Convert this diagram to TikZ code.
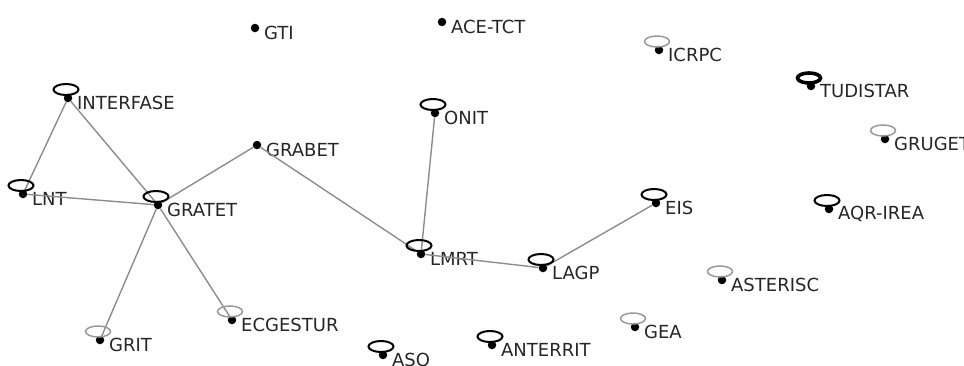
\documentclass[tikz,border=0pt]{standalone}
\usepackage{fontspec}
\setmainfont{DejaVu Sans}

\begin{document}
\begin{tikzpicture}[x=1pt,y=-1pt]
                \tikzset{vertex/.style = {shape=circle,fill=black,inner sep=0pt,minimum size=8.5pt,
                        label={[lbl]right:#1}}}
                \tikzset{lbl/.style = {font=\fontsize{18}{18}\selectfont,text=black!85,inner sep=0pt,
                        label distance=4.5pt,yshift=-4.5pt}}
                \tikzset{edge/.style = {draw=black!45,line width=1.4pt}}
                \tikzset{selfloop/.style = {draw=black,line width=2pt}}
                \tikzset{greyloop/.style = {draw=black!40,line width=1.5pt}}
                \tikzset{heavyloop/.style = {draw=black,line width=3.6pt}}
                \useasboundingbox (0,0) rectangle (964,365);

                \node[vertex=GTI] (gti) at (255, 28) {};
                \node[vertex=ACE-TCT] (acetct) at (442, 22) {};
                \node[vertex=ICRPC] (icrpc) at (659, 50) {};
                \node[vertex=TUDISTAR] (tudistar) at (811, 86) {};
                \node[vertex=INTERFASE] (interfase) at (68, 98) {};
                \node[vertex=ONIT] (onit) at (435, 113) {};
                \node[vertex=GRUGET] (gruget) at (885, 139) {};
                \node[vertex=GRABET] (grabet) at (257, 145) {};
                \node[vertex=LNT] (lnt) at (23, 194) {};
                \node[vertex=GRATET] (gratet) at (158, 205) {};
                \node[vertex=EIS] (eis) at (656, 203) {};
                \node[vertex=AQR-IREA] (aqr) at (829, 209) {};
                \node[vertex=LMRT] (lmrt) at (421, 254) {};
                \node[vertex=LAGP] (lagp) at (543, 268) {};
                \node[vertex=ASTERISC] (asterisc) at (722, 280) {};
                \node[vertex=ECGESTUR] (ecgestur) at (232, 320) {};
                \node[vertex=GEA] (gea) at (635, 327) {};
                \node[vertex=GRIT] (grit) at (100, 340) {};
                \node[vertex=ANTERRIT] (anterrit) at (492, 345) {};
                \node[vertex=ASO] (aso) at (383, 355) {};

                \draw[edge] (interfase) to (lnt);
                \draw[edge] (interfase) to (gratet);

                \draw[edge] (lnt) to (gratet);

                \draw[edge] (gratet) to (grabet);
                \draw[edge] (gratet) to (grit);
                \draw[edge] (gratet) to (ecgestur);

                \draw[edge] (grabet) to (lmrt);
                \draw[edge] (onit) to (lmrt);
                \draw[edge] (lmrt) to (lagp);
                \draw[edge] (lagp) to (eis);

                \draw[heavyloop] ([shift={(-2,-8)}]tudistar.center) ellipse [x radius=11.5pt, y radius=5pt];

                \draw[selfloop] ([shift={(-2,-8.5)}]interfase.center) ellipse [x radius=12.5pt, y radius=5.5pt];
                \draw[selfloop] ([shift={(-2,-8.5)}]onit.center) ellipse [x radius=12.5pt, y radius=5.5pt];
                \draw[selfloop] ([shift={(-2,-8.5)}]lnt.center) ellipse [x radius=12.5pt, y radius=5.5pt];
                \draw[selfloop] ([shift={(-2,-8.5)}]gratet.center) ellipse [x radius=12.5pt, y radius=5.5pt];
                \draw[selfloop] ([shift={(-2,-8.5)}]eis.center) ellipse [x radius=12.5pt, y radius=5.5pt];
                \draw[selfloop] ([shift={(-2,-8.5)}]aqr.center) ellipse [x radius=12.5pt, y radius=5.5pt];
                \draw[selfloop] ([shift={(-2,-8.5)}]lmrt.center) ellipse [x radius=12.5pt, y radius=5.5pt];
                \draw[selfloop] ([shift={(-2,-8.5)}]lagp.center) ellipse [x radius=12.5pt, y radius=5.5pt];
                \draw[selfloop] ([shift={(-2,-8.5)}]anterrit.center) ellipse [x radius=12.5pt, y radius=5.5pt];
                \draw[selfloop] ([shift={(-2,-8.5)}]aso.center) ellipse [x radius=12.5pt, y radius=5.5pt];

                \draw[greyloop] ([shift={(-2,-8.5)}]icrpc.center) ellipse [x radius=12.5pt, y radius=5.5pt];
                \draw[greyloop] ([shift={(-2,-8.5)}]gruget.center) ellipse [x radius=12.5pt, y radius=5.5pt];
                \draw[greyloop] ([shift={(-2,-8.5)}]asterisc.center) ellipse [x radius=12.5pt, y radius=5.5pt];
                \draw[greyloop] ([shift={(-2,-8.5)}]ecgestur.center) ellipse [x radius=12.5pt, y radius=5.5pt];
                \draw[greyloop] ([shift={(-2,-8.5)}]gea.center) ellipse [x radius=12.5pt, y radius=5.5pt];
                \draw[greyloop] ([shift={(-2,-8.5)}]grit.center) ellipse [x radius=12.5pt, y radius=5.5pt];
            \end{tikzpicture}
\end{document}
